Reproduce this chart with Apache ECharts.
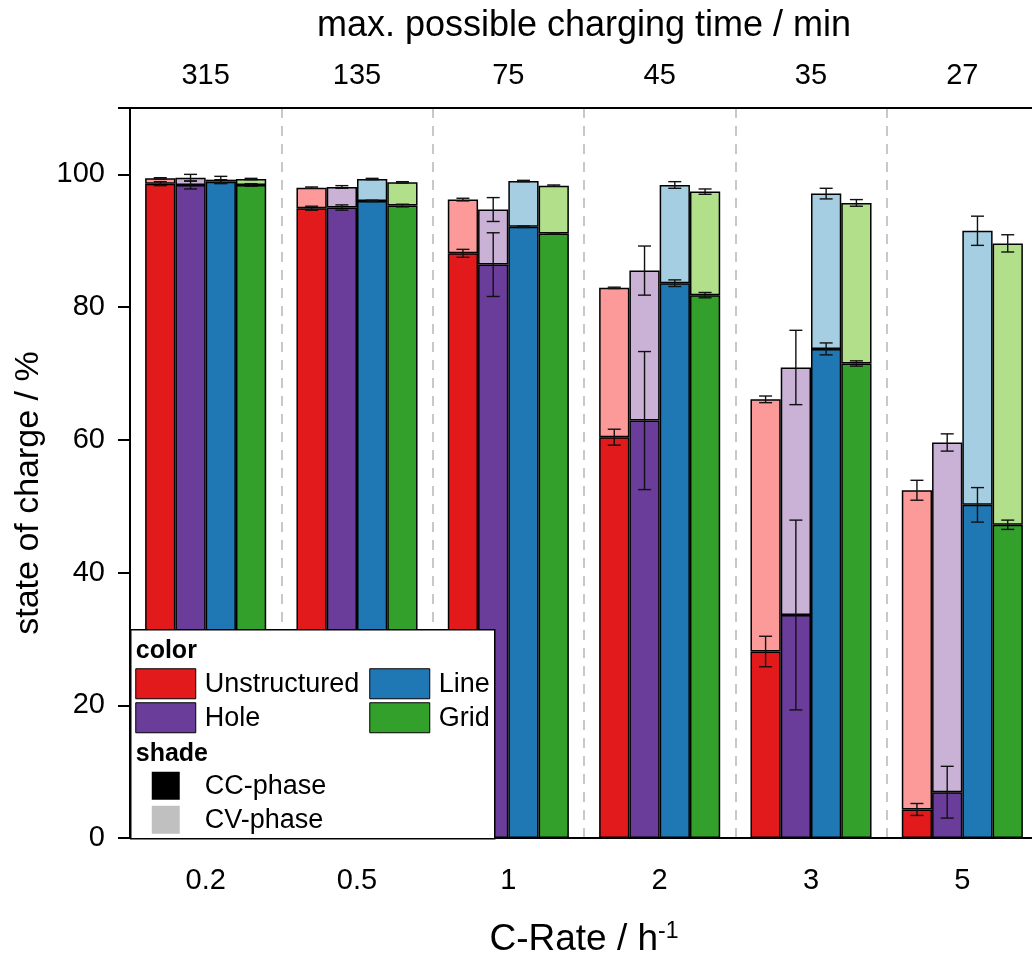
<!DOCTYPE html>
<html>
<head>
<meta charset="utf-8">
<script src="https://cdn.jsdelivr.net/npm/echarts@6/dist/echarts.min.js"></script>
<style>
  html, body { margin: 0; padding: 0; background: #fff; overflow: hidden; }
  #chart { width: 1040px; height: 954px; }
</style>
</head>
<body>
<div id="chart"></div>
<script>
// C-Rate categories (bottom) and matching charging times (top)
var rates = ['0.2', '0.5', '1', '2', '3', '5'];
var times = ['315', '135', '75', '45', '35', '27'];

// state of charge at end of CC phase / at end of CV phase, with errors
var unstructuredCC = [98.6, 94.9, 88.1, 60.4, 28.1, 4.3];
var unstructuredCCErr = [0.3, 0.3, 0.6, 1.2, 2.3, 0.9];
var unstructuredCV = [99.4, 98.0, 96.2, 82.9, 66.1, 52.4];
var unstructuredCVErr = [0.1, 0.1, 0.2, 0.1, 0.5, 1.5];

var holeCC = [98.4, 95.0, 86.4, 62.9, 33.6, 6.9];
var holeCCErr = [0.6, 0.4, 4.8, 10.4, 14.3, 3.9];
var holeCV = [99.5, 98.1, 94.7, 85.5, 70.9, 59.6];
var holeCVErr = [0.5, 0.2, 1.8, 3.7, 5.6, 1.3];

var lineCC = [98.9, 96.0, 92.1, 83.6, 73.7, 50.2];
var lineCCErr = [0.3, 0.1, 0.1, 0.5, 0.9, 2.6];
var lineCV = [99.2, 99.3, 99.0, 98.4, 97.1, 91.5];
var lineCVErr = [0.5, 0.1, 0.1, 0.5, 0.8, 2.2];

var gridCC = [98.4, 95.3, 91.1, 81.8, 71.5, 47.2];
var gridCCErr = [0.2, 0.2, 0.1, 0.4, 0.4, 0.7];
var gridCV = [99.3, 98.8, 98.3, 97.4, 95.7, 89.6];
var gridCVErr = [0.1, 0.1, 0.1, 0.4, 0.5, 1.3];

var materials = [
    { name: 'Unstructured', cc: unstructuredCC, ccErr: unstructuredCCErr, cv: unstructuredCV, cvErr: unstructuredCVErr, dark: '#e31a1c', light: '#fb9a99' },
    { name: 'Hole', cc: holeCC, ccErr: holeCCErr, cv: holeCV, cvErr: holeCVErr, dark: '#6a3d9a', light: '#cab2d6' },
    { name: 'Line', cc: lineCC, ccErr: lineCCErr, cv: lineCV, cvErr: lineCVErr, dark: '#1f78b4', light: '#a6cee3' },
    { name: 'Grid', cc: gridCC, ccErr: gridCCErr, cv: gridCV, cvErr: gridCVErr, dark: '#33a02c', light: '#b2df8a' }
];

var font = 'Liberation Sans, Arial, sans-serif';

var chart = echarts.init(document.getElementById('chart'));

var series = [];
materials.forEach(function (m, mi) {
    series.push({
        name: m.name + ' CC',
        type: 'bar',
        stack: m.name,
        barGap: '0%',
        barCategoryGap: '20%',
        itemStyle: { color: m.dark, borderColor: '#000', borderWidth: 1.5 },
        data: m.cc
    });
    series.push({
        name: m.name + ' CV',
        type: 'bar',
        stack: m.name,
        barGap: '0%',
        barCategoryGap: '20%',
        itemStyle: { color: m.light, borderColor: '#000', borderWidth: 1.5 },
        data: m.cv.map(function (v, i) { return +(v - m.cc[i]).toFixed(2); })
    });
});

// error bars, drawn over the grouped bars
materials.forEach(function (m, mi) {
    var errData = [];
    m.cc.forEach(function (v, i) { errData.push([i, v, m.ccErr[i]]); });
    m.cv.forEach(function (v, i) { errData.push([i, v, m.cvErr[i]]); });
    series.push({
        type: 'custom',
        name: m.name + ' err',
        z: 5,
        data: errData,
        renderItem: function (params, api) {
            var x = api.value(0), v = api.value(1), e = api.value(2);
            var band = api.size([1, 0])[0];
            var bw = band * 0.8 / 4;
            var cx = api.coord([x, v])[0] + (mi - 1.5) * bw;
            var top = api.coord([x, v + e])[1];
            var bot = api.coord([x, v - e])[1];
            var cap = 6.5;
            var st = { stroke: '#111', lineWidth: 1.4 };
            return {
                type: 'group',
                children: [
                    { type: 'line', shape: { x1: cx, y1: top, x2: cx, y2: bot }, style: st },
                    { type: 'line', shape: { x1: cx - cap, y1: top, x2: cx + cap, y2: top }, style: st },
                    { type: 'line', shape: { x1: cx - cap, y1: bot, x2: cx + cap, y2: bot }, style: st }
                ]
            };
        }
    });
});

// legend box (color / shade)
var lg = [];
lg.push({ type: 'rect', z: 100, shape: { x: 0, y: 0, width: 364, height: 209 }, style: { fill: '#fff', stroke: '#000', lineWidth: 1.5 } });
lg.push({ type: 'text', z: 101, x: 5, y: 21, style: { text: 'color', font: 'bold 25px ' + font, fill: '#000', verticalAlign: 'middle' } });
var lgPos = [[5, 39], [5, 73], [239, 39], [239, 73]];
materials.forEach(function (m, k) {
    var p = lgPos[k];
    lg.push({ type: 'rect', z: 101, shape: { x: p[0], y: p[1], width: 60, height: 30 }, style: { fill: m.dark, stroke: '#000', lineWidth: 1 } });
    lg.push({ type: 'text', z: 101, x: p[0] + 69, y: p[1] + 16, style: { text: m.name, font: '27px ' + font, fill: '#000', verticalAlign: 'middle' } });
});
lg.push({ type: 'text', z: 101, x: 5, y: 124, style: { text: 'shade', font: 'bold 25px ' + font, fill: '#000', verticalAlign: 'middle' } });
lg.push({ type: 'rect', z: 101, shape: { x: 21, y: 142, width: 28, height: 28 }, style: { fill: '#000' } });
lg.push({ type: 'text', z: 101, x: 74, y: 157, style: { text: 'CC-phase', font: '27px ' + font, fill: '#000', verticalAlign: 'middle' } });
lg.push({ type: 'rect', z: 101, shape: { x: 21, y: 176, width: 28, height: 28 }, style: { fill: '#c0c0c0' } });
lg.push({ type: 'text', z: 101, x: 74, y: 191, style: { text: 'CV-phase', font: '27px ' + font, fill: '#000', verticalAlign: 'middle' } });

var axisLineStyle = { color: '#000', width: 2 };

var option = {
    animation: false,
    backgroundColor: '#fff',
    textStyle: { fontFamily: font },
    grid: { left: 130, right: 2, top: 108, bottom: 116, outerBoundsMode: 'none' },
    xAxis: [
        {
            type: 'category',
            position: 'bottom',
            data: rates,
            axisLine: { lineStyle: axisLineStyle },
            axisTick: { alignWithLabel: true, length: 14, lineStyle: { color: '#000', width: 2 } },
            axisLabel: { fontSize: 29, color: '#000', margin: 28, fontFamily: font },
            splitLine: { show: true, lineStyle: { color: '#c8c8c8', width: 2, type: [10, 8] } },
            name: 'C-Rate / h{sup|-1}',
            nameLocation: 'middle',
            nameGap: 82,
            nameTextStyle: {
                fontSize: 37, color: '#000', fontFamily: font,
                rich: { sup: { fontSize: 23, color: '#000', fontFamily: font, padding: [0, 0, 17, 0] } }
            }
        },
        {
            type: 'category',
            position: 'bottom',
            data: rates,
            axisLine: { show: false },
            axisTick: { length: 7, lineStyle: { color: '#000', width: 2 } },
            axisLabel: { show: false },
            splitLine: { show: false }
        },
        {
            type: 'category',
            position: 'top',
            data: times,
            axisLine: { lineStyle: axisLineStyle },
            axisTick: { alignWithLabel: true, inside: true, length: 13, lineStyle: { color: '#000', width: 2 } },
            axisLabel: { fontSize: 29, color: '#000', margin: 18, fontFamily: font },
            splitLine: { show: false },
            name: 'max. possible charging time / min',
            nameLocation: 'middle',
            nameGap: 64,
            nameTextStyle: { fontSize: 36, color: '#000', fontFamily: font }
        },
        {
            type: 'category',
            position: 'top',
            data: times,
            axisLine: { show: false },
            axisTick: { inside: true, length: 6, lineStyle: { color: '#000', width: 2 } },
            axisLabel: { show: false },
            splitLine: { show: false }
        }
    ],
    yAxis: [
        {
            type: 'value',
            position: 'left',
            min: 0,
            max: 110,
            interval: 20,
            axisLine: { show: true, lineStyle: axisLineStyle },
            axisTick: { show: true, length: 12, lineStyle: { color: '#000', width: 2 } },
            axisLabel: {
                fontSize: 29, color: '#000', margin: 25, fontFamily: font,
                formatter: function (v) { return v > 100 ? '' : v; }
            },
            splitLine: { show: false },
            name: 'state of charge / %',
            nameLocation: 'middle',
            nameGap: 80,
            nameTextStyle: { fontSize: 34, color: '#000', fontFamily: font, padding: [0, 40, 0, 0] }
        },
        {
            type: 'value',
            position: 'right',
            min: 0,
            max: 110,
            interval: 20,
            axisLine: { show: true, lineStyle: axisLineStyle },
            axisTick: { show: true, inside: true, length: 5, lineStyle: { color: '#000', width: 2 } },
            axisLabel: { show: false },
            splitLine: { show: false }
        }
    ],
    series: series,
    graphic: [
        { type: 'group', left: 130, top: 629, z: 100, children: lg }
    ]
};

chart.setOption(option);
</script>
</body>
</html>
